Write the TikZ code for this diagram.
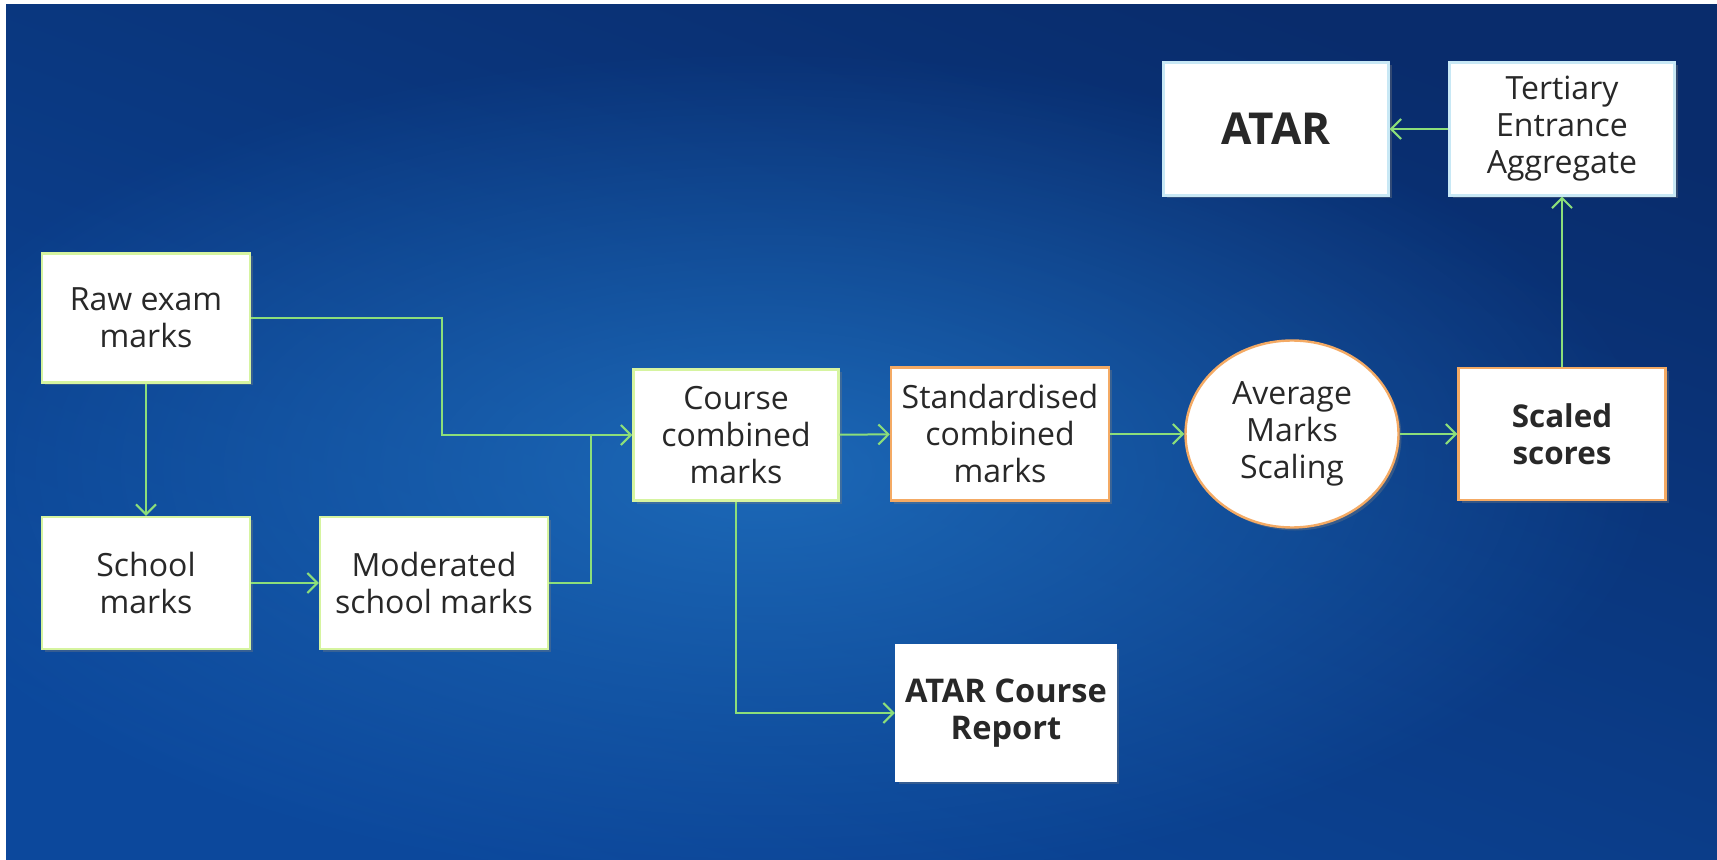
\documentclass[tikz,border=0pt]{standalone}
\usepackage{fontspec}
\setmainfont{Open Sans}
\usetikzlibrary{arrows.meta,shapes.geometric,shadows,fadings}
\definecolor{bgtop}{RGB}{9,44,108}
\definecolor{bgmid}{RGB}{14,78,160}
\definecolor{bgbot}{RGB}{12,72,156}
\definecolor{bglight}{RGB}{34,120,200}
\definecolor{linkgreen}{RGB}{140,222,122}
\definecolor{edgegreen}{RGB}{214,244,160}
\definecolor{edgeorange}{RGB}{244,170,100}
\definecolor{edgecyan}{RGB}{200,232,245}
\definecolor{txt}{RGB}{40,40,40}
\tikzfading[name=glow, inner color=transparent!0, outer color=transparent!100]
\tikzset{
  box/.style={draw=edgegreen, line width=1.2pt, fill=white, text=txt,
    align=center, inner sep=2pt, font=\fontsize{16}{18.5}\selectfont,
    drop shadow={opacity=0.35, shadow xshift=1.5pt, shadow yshift=-1.5pt}},
  orangebox/.style={box, draw=edgeorange},
  topbox/.style={box, draw=edgecyan},
  plainbox/.style={box, draw=white},
  link/.style={draw=linkgreen, line width=1pt,
    -{Straight Barb[length=5pt,width=10pt]}},
  joinlink/.style={draw=linkgreen, line width=1pt}
}
\begin{document}
\begin{tikzpicture}[x=0.5pt,y=-0.5pt]
  \useasboundingbox (0,0) rectangle (1717,860);
  \fill[white] (0,0) rectangle (1717,860);
  \begin{scope}
    \clip (6,5) rectangle (1717,860);
    \shade[top color=bgtop, middle color=bgmid, bottom color=bgbot, shading angle=-20]
      (6,5) rectangle (1717,860);
    \fill[bglight, fill opacity=0.75, path fading=glow] (760,470) ellipse [x radius=900, y radius=420];
  \end{scope}

  \node[box, minimum width=104pt, minimum height=64.5pt] (raw) at (146,318) {Raw exam\\marks};
  \node[box, minimum width=104pt, minimum height=66pt] (school) at (146,583) {School\\marks};
  \node[box, minimum width=114pt, minimum height=66pt] (moderated) at (434,583) {Moderated\\school marks};
  \node[box, minimum width=102.5pt, minimum height=65.5pt] (course) at (736,435) {Course\\combined\\marks};
  \node[orangebox, minimum width=109pt, minimum height=66.5pt] (standard) at (1000,434) {Standardised\\combined\\marks};
  \node[orangebox, ellipse, inner sep=0pt, minimum width=106.5pt, minimum height=93.5pt] (scaling) at (1292,434) {Average\\Marks\\Scaling};
  \node[orangebox, minimum width=103.5pt, minimum height=66pt, font=\fontsize{15.7}{18.5}\selectfont\bfseries] (scaled) at (1562,434) {Scaled\\scores};
  \node[topbox, minimum width=112.5pt, minimum height=66.5pt, font=\fontsize{22}{26}\selectfont\bfseries] (atar) at (1276,129) {ATAR};
  \node[topbox, minimum width=112.5pt, minimum height=66.5pt] (tea) at (1562,129) {Tertiary\\Entrance\\Aggregate};
  \node[plainbox, minimum width=110pt, minimum height=67.5pt, font=\fontsize{16.3}{18.5}\selectfont\bfseries] (report) at (1006,713) {ATAR Course\\Report};

  \coordinate (rawturn) at (442,435);
  \coordinate (modturn) at (591,435);

  \begin{scope}
    \draw[link] (raw) to (school);
    \draw[link] (school) to (moderated);
    \draw[link] (raw.east) -| (rawturn) -- (course.west);
    \draw[joinlink] (moderated.east) -| (modturn);
    \draw[link] (course) to (standard);
    \draw[link] (standard) to (scaling);
    \draw[link] (scaling) to (scaled);
    \draw[link] (scaled) to (tea);
    \draw[link] (tea) to (atar);
    \draw[link] (course.south) |- (report.west);
  \end{scope}
\end{tikzpicture}
\end{document}
